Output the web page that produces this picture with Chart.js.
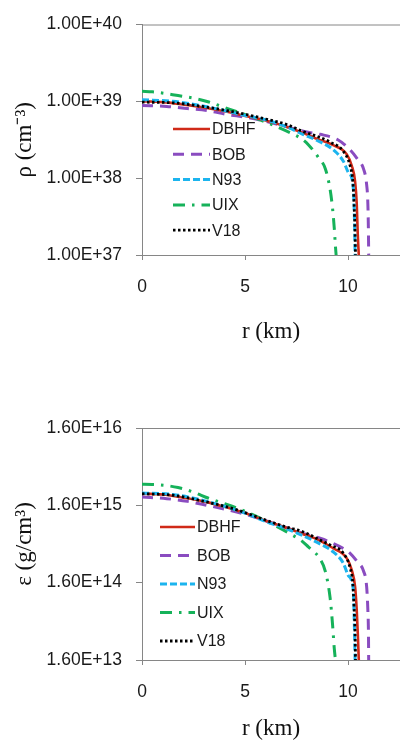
<!DOCTYPE html>
<html>
<head>
<meta charset="utf-8">
<script src="https://cdn.jsdelivr.net/npm/chart.js@4"></script>
<style>
  html, body { margin: 0; padding: 0; background: #fff; }
  #wrap { position: relative; width: 400px; height: 747px; overflow: hidden; }
  canvas { position: absolute; left: 0; }
  #rhoChart { top: 0; }
  #epsChart { top: 350px; }
</style>
</head>
<body>
<div id="wrap">
  <canvas id="rhoChart" width="400" height="350"></canvas>
  <canvas id="epsChart" width="400" height="397"></canvas>
</div>
<script>
// ---- Data ----
const rTicks = [0, 5, 10];
const rhoTicks = [1e37, 1e38, 1e39, 1e40];
const epsTicks = [1.6e13, 1.6e14, 1.6e15, 1.6e16];
const seriesNames = ['DBHF', 'BOB', 'N93', 'UIX', 'V18'];

// r (km) for each EOS
const dbhfR = [0, 1, 2, 3, 4, 5, 6, 7, 7.8, 8.5, 9.28, 9.94, 10.18, 10.34, 10.42, 10.47, 10.52];
const bobR  = [0, 1.2, 2.2, 3.15, 4.1, 5.1, 6, 7, 8.0, 8.64, 9.5, 10.1, 10.45, 10.75, 10.9, 10.96, 10.99, 11.0];
const n93R  = [0, 1.5, 3.15, 5.1, 6, 7, 7.8, 8.5, 9.28, 9.77, 10.0, 10.18, 10.26, 10.31, 10.34];
const uixR  = [0, 0.5, 1.75, 2.5, 3.2, 3.9, 4.66, 6.0, 7.2, 7.75, 8.06, 8.56, 8.9, 9.13, 9.25, 9.33, 9.38, 9.42];
const v18R  = [0, 1.5, 3, 4.5, 6, 7, 7.8, 8.64, 9.13, 9.77, 10.1, 10.23, 10.29, 10.34, 10.36];

// number density rho (cm^-3)
const dbhfRho = [1.0e39, 9.77e38, 9.12e38, 8.32e38, 7.41e38, 6.46e38, 5.62e38, 4.68e38, 3.89e38, 3.24e38, 2.69e38, 2.04e38, 1.45e38, 9.1e37, 4.68e37, 1.86e37, 1.0e37];
const bobRho  = [8.83e38, 8.59e38, 8.05e38, 7.59e38, 6.76e38, 6.17e38, 5.50e38, 4.68e38, 3.98e38, 3.72e38, 3.16e38, 2.34e38, 1.78e38, 1.32e38, 8.3e37, 4.68e37, 1.86e37, 1.0e37];
const n93Rho  = [1.05e39, 1.0e39, 8.51e38, 6.46e38, 5.75e38, 4.68e38, 3.72e38, 3.09e38, 2.34e38, 1.66e38, 1.20e38, 1.0e38, 6.9e37, 2.95e37, 1.0e37];
const uixRho  = [1.35e39, 1.33e39, 1.19e39, 1.10e39, 9.89e38, 8.51e38, 7.24e38, 5.37e38, 3.89e38, 3.24e38, 2.75e38, 1.86e38, 1.32e38, 7.08e37, 3.98e37, 2.24e37, 1.38e37, 1.0e37];
const v18Rho  = [9.77e38, 9.55e38, 8.51e38, 7.24e38, 5.89e38, 5.01e38, 4.07e38, 3.39e38, 2.95e38, 2.24e38, 1.45e38, 9.1e37, 4.68e37, 1.86e37, 1.0e37];

// energy density epsilon (g/cm^3)
const dbhfEps = [2.26e15, 2.21e15, 2.01e15, 1.80e15, 1.53e15, 1.27e15, 1.01e15, 8.2e14, 6.83e14, 5.81e14, 4.46e14, 3.30e14, 2.33e14, 1.42e14, 7.1e13, 3.6e13, 1.6e13];
const bobEps  = [2.05e15, 1.95e15, 1.80e15, 1.60e15, 1.41e15, 1.21e15, 1.01e15, 8.2e14, 6.7e14, 6.0e14, 4.83e14, 3.84e14, 2.98e14, 2.26e14, 1.43e14, 7.1e13, 3.5e13, 1.6e13];
const n93Eps  = [2.31e15, 2.21e15, 1.80e15, 1.24e15, 9.9e14, 8.0e14, 6.5e14, 5.3e14, 4.0e14, 2.85e14, 2.0e14, 1.65e14, 1.16e14, 4.0e13, 1.6e13];
const uixEps  = [2.99e15, 2.98e15, 2.72e15, 2.37e15, 1.99e15, 1.72e15, 1.46e15, 1.01e15, 6.83e14, 5.55e14, 4.67e14, 3.47e14, 2.22e14, 1.01e14, 4.5e13, 2.26e13, 1.68e13, 1.4e13];
const v18Eps  = [2.26e15, 2.16e15, 1.80e15, 1.43e15, 1.03e15, 8.4e14, 7.3e14, 5.7e14, 4.9e14, 3.84e14, 2.48e14, 1.56e14, 7.8e13, 3.5e13, 1.6e13];

// ---- Styles ----
const lineStyles = [
    { color: '#D02A18', width: 2.6, dash: [], order: 3 },
    { color: '#8A4CC0', width: 3, dash: [11, 7], order: 5 },
    { color: '#1CB4EE', width: 3, dash: [7, 3], order: 2 },
    { color: '#16B25A', width: 3, dash: [12, 7, 2.5, 7], order: 4 },
    { color: '#000000', width: 2.8, dash: [2.5, 2.5], order: 1 }
];
const AXIS_GREY = '#868686';
const TICK_FONT = { family: '"Liberation Sans", Arial, sans-serif', size: 17.5 };
const LEGEND_FONT = { family: '"Liberation Sans", Arial, sans-serif', size: 16 };
const TITLE_FONT = { family: '"Liberation Serif", "Times New Roman", serif', size: 23 };

const toPoints = (xs, ys) => xs.map((x, i) => ({ x: x, y: ys[i] }));

// legend drawn inside the plot area
const insideLegend = {
    id: 'insideLegend',
    afterDatasetsDraw(chart, args, opts) {
        const ctx = chart.ctx;
        ctx.save();
        chart.data.datasets.forEach((ds, i) => {
            const y = opts.y + i * opts.gap;
            ctx.strokeStyle = ds.borderColor;
            ctx.lineWidth = ds.borderWidth;
            ctx.setLineDash(ds.borderDash || []);
            ctx.beginPath();
            ctx.moveTo(opts.x, y);
            ctx.lineTo(opts.x + opts.len, y);
            ctx.stroke();
            ctx.setLineDash([]);
            ctx.fillStyle = '#1a1a1a';
            ctx.font = LEGEND_FONT.size + 'px ' + LEGEND_FONT.family;
            ctx.textBaseline = 'middle';
            ctx.fillText(ds.label, opts.x + opts.len + 2, y + 1);
        });
        ctx.restore();
    }
};

// thin top border of plot area
const topBorder = {
    id: 'topBorder',
    afterDraw(chart) {
        const { ctx, chartArea: a } = chart;
        ctx.save();
        ctx.strokeStyle = AXIS_GREY;
        ctx.lineWidth = 1;
        ctx.beginPath();
        ctx.moveTo(a.left, a.top + 0.5);
        ctx.lineTo(a.right, a.top + 0.5);
        ctx.stroke();
        ctx.restore();
    }
};

function makeChart(id, rows, yTicks, yTitle, padTop, xAxisHeight, legendPos) {
    const datasets = rows.map((pts, i) => ({
        label: seriesNames[i],
        data: pts,
        borderColor: lineStyles[i].color,
        borderWidth: lineStyles[i].width,
        borderDash: lineStyles[i].dash,
        order: lineStyles[i].order,
        pointRadius: 0,
        fill: false,
        cubicInterpolationMode: 'monotone'
    }));

    return new Chart(document.getElementById(id).getContext('2d'), {
        type: 'line',
        data: { datasets: datasets },
        options: {
            responsive: false,
            animation: false,
            layout: { padding: { left: 7, top: padTop, right: 0, bottom: 0 } },
            plugins: {
                legend: { display: false },
                tooltip: { enabled: false },
                insideLegend: legendPos
            },
            scales: {
                x: {
                    type: 'linear',
                    min: 0,
                    max: 12.52,
                    afterBuildTicks: (s) => { s.ticks = rTicks.map(v => ({ value: v })); },
                    afterFit: (s) => { s.height = xAxisHeight; },
                    grid: { display: true, drawOnChartArea: false, tickLength: 5, color: AXIS_GREY },
                    border: { display: true, color: AXIS_GREY },
                    ticks: { font: TICK_FONT, color: '#1a1a1a', padding: 17, maxRotation: 0 },
                    title: { display: true, text: 'r (km)', font: TITLE_FONT, color: '#111', padding: { top: 4, bottom: 4 } }
                },
                y: {
                    type: 'logarithmic',
                    min: yTicks[0],
                    max: yTicks[yTicks.length - 1],
                    afterBuildTicks: (s) => { s.ticks = yTicks.map(v => ({ value: v })); },
                    afterFit: (s) => { s.width = 135; },
                    grid: { display: true, drawOnChartArea: false, tickLength: 6, color: AXIS_GREY },
                    border: { display: true, color: AXIS_GREY },
                    ticks: {
                        font: TICK_FONT,
                        color: '#1a1a1a',
                        padding: 14,
                        callback: (v) => Number(v).toExponential(2).toUpperCase()
                    },
                    title: { display: true, text: yTitle, font: TITLE_FONT, color: '#111', padding: { top: 4, bottom: 4 } }
                }
            }
        },
        plugins: [insideLegend, topBorder]
    });
}

makeChart('rhoChart', [
    toPoints(dbhfR, dbhfRho),
    toPoints(bobR, bobRho),
    toPoints(n93R, n93Rho),
    toPoints(uixR, uixRho),
    toPoints(v18R, v18Rho)
], rhoTicks, 'ρ (cm⁻³)', 10, 95, { x: 173, y: 129, gap: 25.3, len: 37 });

makeChart('epsChart', [
    toPoints(dbhfR, dbhfEps),
    toPoints(bobR, bobEps),
    toPoints(n93R, n93Eps),
    toPoints(uixR, uixEps),
    toPoints(v18R, v18Eps)
], epsTicks, 'ε (g/cm³)', 78, 87, { x: 160, y: 177, gap: 28.5, len: 35 });
</script>
</body>
</html>
